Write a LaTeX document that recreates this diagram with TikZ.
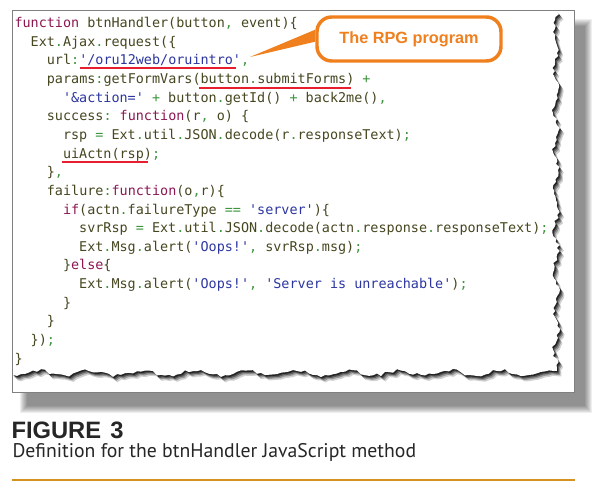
\documentclass[tikz,border=0pt]{standalone}
\usepackage{fontspec}
\setmonofont{DejaVu Sans Mono}
\newfontfamily\calloutfont{Liberation Sans}
\newfontfamily\captionfont{PT Sans}

\definecolor{codetext}{RGB}{70,70,32}
\definecolor{codekey}{RGB}{140,22,82}
\definecolor{codestr}{RGB}{44,54,160}
\definecolor{codepun}{RGB}{62,150,62}
\definecolor{rpgorange}{RGB}{240,128,30}
\definecolor{markred}{RGB}{230,30,45}
\definecolor{rulegold}{RGB}{214,146,30}

\newcommand{\ckey}[1]{\textcolor{codekey}{#1}}
\newcommand{\cstr}[1]{\textcolor{codestr}{#1}}
\newcommand{\cpun}[1]{\textcolor{codepun}{#1}}

% outline of the torn sheet
\newcommand{\tornsheet}{(12,11) -- (556,11)
  \foreach \yy in {14,17,...,371} { -- ({556+2.5*sin(\yy*9)+1.8*rand},\yy) }
  \foreach \xx in {553,549,...,13} { -- (\xx,{373+2.5*sin(\xx*7)+1.8*rand}) }
  -- (12,373) -- cycle}

\tikzset{every picture/.style={line width=0.75pt}}
\tikzset{
  codeline/.style={anchor=base west, inner sep=0pt, text=codetext,
    font=\ttfamily\fontsize{10.08}{14}\selectfont},
  callout/.style={draw=rpgorange, line width=2.6pt, fill=white, rounded corners=11pt,
    minimum width=138pt, minimum height=33pt, inner sep=0pt, text=rpgorange,
    font=\calloutfont\bfseries\fontsize{12.2}{14}\selectfont},
  markline/.style={fill=markred, draw=none}
}

\begin{document}
\begin{tikzpicture}[x=0.75pt,y=0.75pt,yscale=-1,xscale=1]
\useasboundingbox (0,0) rectangle (600,492);
\fill[white] (0,0) rectangle (600,492);

%Shape: Frame shadow
\foreach \i in {0,...,7} {\fill[black, opacity=0.065] ({20+\i},{19+\i}) rectangle ({592-\i},{413-\i});}
%Shape: Frame
\fill[white] (12,11) rectangle (574,392);

%Shape: Torn sheet shadow
\foreach \s/\o in {4.5/0.18, 3.3/0.28, 2.2/0.4, 1.2/0.6} {
  \begin{scope}[shift={(\s,{\s*1.2})}]
  \pgfmathsetseed{4217}
  \fill[black, opacity=\o] \tornsheet;
  \end{scope}
}
%Shape: Torn sheet
\pgfmathsetseed{4217}
\fill[white] \tornsheet;

%Shape: Frame border
\draw[black!50] (12,11) rectangle (574,392);

%Shape: red marks
\path[markline] (80,67.5) rectangle (236,69.5);
\path[markline] (199,87) rectangle (351,89);
\path[markline] (62,161) rectangle (148,163);

% Text Node
\node (l1) [codeline] at (14,27.5) {\ckey{function} btnHandler(button\cpun{,} event)\{};
% Text Node
\node (l2) [codeline] at (30.2,46.15) {Ext\cpun{.}Ajax\cpun{.}request(\{};
% Text Node
\node (l3) [codeline] at (46.4,64.8) {url\cpun{:}\cstr{'/oru12web/oruintro'}\cpun{,}};
% Text Node
\node (l4) [codeline] at (46.4,83.45) {params\cpun{:}getFormVars(button\cpun{.}submitForms) \cpun{+}};
% Text Node
\node (l5) [codeline] at (62.5,102.1) {\cstr{'\&action='} \cpun{+} button\cpun{.}getId() \cpun{+} back2me()\cpun{,}};
% Text Node
\node (l6) [codeline] at (46.4,120.75) {success\cpun{:} \ckey{function}(r\cpun{,} o) \{};
% Text Node
\node (l7) [codeline] at (62.5,139.4) {rsp \cpun{=} Ext\cpun{.}util\cpun{.}JSON\cpun{.}decode(r\cpun{.}responseText)\cpun{;}};
% Text Node
\node (l8) [codeline] at (62.5,158.05) {uiActn(rsp)\cpun{;}};
% Text Node
\node (l9) [codeline] at (46.4,176.7) {\}\cpun{,}};
% Text Node
\node (l10) [codeline] at (46.4,195.35) {failure\cpun{:}\ckey{function}(o\cpun{,}r)\{};
% Text Node
\node (l11) [codeline] at (62.5,214) {\ckey{if}(actn\cpun{.}failureType \cpun{==} \cstr{'server'})\{};
% Text Node
\node (l12) [codeline] at (78.7,232.65) {svrRsp \cpun{=} Ext\cpun{.}util\cpun{.}JSON\cpun{.}decode(actn\cpun{.}response\cpun{.}responseText)\cpun{;}};
% Text Node
\node (l13) [codeline] at (78.7,251.3) {Ext\cpun{.}Msg\cpun{.}alert(\cstr{'Oops!'}\cpun{,} svrRsp\cpun{.}msg)\cpun{;}};
% Text Node
\node (l14) [codeline] at (62.5,269.95) {\}\ckey{else}\{};
% Text Node
\node (l15) [codeline] at (78.7,288.6) {Ext\cpun{.}Msg\cpun{.}alert(\cstr{'Oops!'}\cpun{,} \cstr{'Server is unreachable'})\cpun{;}};
% Text Node
\node (l16) [codeline] at (62.5,307.25) {\}};
% Text Node
\node (l17) [codeline] at (46.4,325.9) {\}};
% Text Node
\node (l18) [codeline] at (30.2,344.55) {\})\cpun{;}};
% Text Node
\node (l19) [codeline] at (14,363.2) {\}};

%Shape: Callout
\node (rpg) [callout] at (409,39) {The RPG program};
\coordinate (urltip) at (250,57);
\fill[rpgorange] (urltip) -- ([yshift=2pt]rpg.west) -- ([yshift=-7pt]rpg.west) -- cycle;

% Text Node
\node (fig) [anchor=base west, inner sep=0pt, text=black!85,
  font=\calloutfont\bfseries\fontsize{17.8}{20}\selectfont] at (11,438) {FIGURE\hspace{7pt}3};
% Text Node
\node (cap) [anchor=base west, inner sep=0pt, text=black!85,
  font=\captionfont\fontsize{14.8}{18}\selectfont] at (12,457) {Definition for the btnHandler JavaScript method};

%Straight Lines: rule
\draw[rulegold, line width=2pt] (12,480) -- (575,480);

\end{tikzpicture}
\end{document}
